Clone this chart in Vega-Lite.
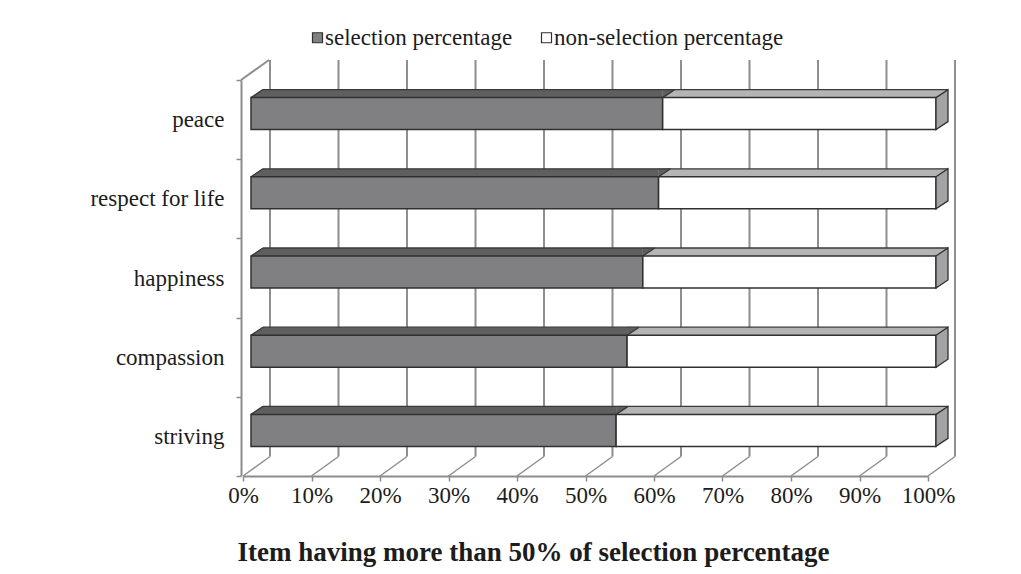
{
  "$schema": "https://vega.github.io/schema/vega-lite/v6.json",
  "width": 685,
  "height": 396,
  "autosize": {"type": "none"},
  "padding": {"left": 243, "top": 80, "right": 93, "bottom": 98},
  "background": "white",
  "datasets": {
    "shares": [
      {"item": "peace", "segment": "selection percentage", "value": 0.601},
      {"item": "peace", "segment": "non-selection percentage", "value": 0.399},
      {"item": "respect for life", "segment": "selection percentage", "value": 0.595},
      {"item": "respect for life", "segment": "non-selection percentage", "value": 0.405},
      {"item": "happiness", "segment": "selection percentage", "value": 0.572},
      {"item": "happiness", "segment": "non-selection percentage", "value": 0.428},
      {"item": "compassion", "segment": "selection percentage", "value": 0.549},
      {"item": "compassion", "segment": "non-selection percentage", "value": 0.451},
      {"item": "striving", "segment": "selection percentage", "value": 0.533},
      {"item": "striving", "segment": "non-selection percentage", "value": 0.467}
    ],
    "ticks": [
      {"t": 0}, {"t": 0.1}, {"t": 0.2}, {"t": 0.3}, {"t": 0.4}, {"t": 0.5},
      {"t": 0.6}, {"t": 0.7}, {"t": 0.8}, {"t": 0.9}, {"t": 1}
    ],
    "corner": [{"edge": "left wall"}]
  },
  "config": {
    "view": {"stroke": null},
    "font": "Liberation Serif",
    "axis": {
      "grid": false,
      "labelFont": "Liberation Serif",
      "labelFontSize": 23,
      "labelColor": "#1c1c1c",
      "labelOverlap": false,
      "labelFlush": false,
      "domainColor": "#8c8c8c",
      "domainWidth": 2,
      "tickColor": "#8c8c8c",
      "tickWidth": 1.5,
      "tickSize": 5,
      "titleFont": "Liberation Serif",
      "titleFontSize": 27,
      "titleFontWeight": "bold",
      "titleColor": "#1c1c1c"
    },
    "legend": {
      "labelFont": "Liberation Serif",
      "labelFontSize": 23,
      "labelColor": "#1c1c1c",
      "labelLimit": 0
    }
  },
  "layer": [
    {
      "description": "back wall: vertical gridlines",
      "data": {"name": "ticks"},
      "mark": {"type": "rule", "color": "#8e8e8e", "strokeWidth": 2, "xOffset": 27, "yOffset": -20, "y2Offset": -19.5},
      "encoding": {
        "x": {
          "field": "t",
          "type": "quantitative",
          "scale": {"domain": [0, 1], "nice": false},
          "title": "Item having more than 50% of selection percentage",
          "axis": {
            "values": [0, 0.1, 0.2, 0.3, 0.4, 0.5, 0.6, 0.7, 0.8, 0.9, 1],
            "format": ".0%",
            "labelPadding": 3,
            "titleX": 290,
            "titleY": 76,
            "titleBaseline": "middle",
            "titleAlign": "center"
          }
        },
        "y": {"value": 0},
        "y2": {"value": "height"}
      }
    },
    {
      "description": "floor: receding lines",
      "data": {"name": "ticks"},
      "mark": {"type": "rule", "color": "#8e8e8e", "strokeWidth": 1.5, "x2Offset": 27, "y2Offset": -19.5},
      "encoding": {
        "x": {"field": "t", "type": "quantitative", "title": "Item having more than 50% of selection percentage"},
        "x2": {"field": "t"},
        "y": {"value": "height"},
        "y2": {"value": "height"}
      }
    },
    {
      "description": "side wall: top edge",
      "data": {"name": "corner"},
      "mark": {"type": "rule", "color": "#8e8e8e", "strokeWidth": 2, "xOffset": -2, "x2Offset": 26, "y2Offset": -20},
      "encoding": {
        "x": {"datum": 0, "type": "quantitative"},
        "x2": {"datum": 0},
        "y": {"value": 0},
        "y2": {"value": 0}
      }
    },
    {
      "data": {"name": "shares"},
      "transform": [
        {
          "stack": "value",
          "groupby": ["item"],
          "sort": [{"field": "segment", "order": "descending"}],
          "as": ["x0", "x1"]
        }
      ],
      "layer": [
        {
          "description": "top faces: middle part",
          "mark": {"type": "bar", "height": 8, "yOffset": -26, "xOffset": 20, "x2Offset": 8, "strokeWidth": 0},
          "encoding": {
            "y": {
              "field": "item",
              "type": "nominal",
              "sort": ["peace", "respect for life", "happiness", "compassion", "striving"],
              "scale": {"paddingInner": 0, "paddingOuter": 0},
              "title": null,
              "axis": {"tickBand": "extent", "offset": 2, "labelPadding": 12}
            },
            "x": {"field": "x0", "type": "quantitative", "title": "Item having more than 50% of selection percentage"},
            "x2": {"field": "x1"},
            "fill": {"condition": {"test": "datum.segment === 'selection percentage'", "value": "#5f5f61"}, "value": "#b4b4b4"}
          }
        },
        {
          "description": "top faces: slanted left ends",
          "mark": {"type": "point", "shape": "M8,-22L20,-22L20,-30Z", "size": 4, "filled": true, "opacity": 1, "strokeWidth": 0.6},
          "encoding": {
            "y": {"field": "item", "type": "nominal", "sort": ["peace", "respect for life", "happiness", "compassion", "striving"], "title": null},
            "x": {"field": "x0", "type": "quantitative", "title": "Item having more than 50% of selection percentage"},
            "fill": {"condition": {"test": "datum.segment === 'selection percentage'", "value": "#5f5f61"}, "value": "#b4b4b4"},
            "stroke": {"condition": {"test": "datum.segment === 'selection percentage'", "value": "#5f5f61"}, "value": "#b4b4b4"}
          }
        },
        {
          "description": "top faces: slanted right ends",
          "mark": {"type": "point", "shape": "M8,-22L20,-30L8,-30Z", "size": 4, "filled": true, "opacity": 1, "strokeWidth": 0.6},
          "encoding": {
            "y": {"field": "item", "type": "nominal", "sort": ["peace", "respect for life", "happiness", "compassion", "striving"], "title": null},
            "x": {"field": "x1", "type": "quantitative", "title": "Item having more than 50% of selection percentage"},
            "fill": {"condition": {"test": "datum.segment === 'selection percentage'", "value": "#5f5f61"}, "value": "#b4b4b4"},
            "stroke": {"condition": {"test": "datum.segment === 'selection percentage'", "value": "#5f5f61"}, "value": "#b4b4b4"}
          }
        },
        {
          "description": "top faces: back edge",
          "mark": {"type": "rule", "color": "#3a3a3a", "strokeWidth": 1.3, "xOffset": 20, "x2Offset": 20, "yOffset": -30},
          "encoding": {
            "y": {"field": "item", "type": "nominal", "sort": ["peace", "respect for life", "happiness", "compassion", "striving"], "title": null},
            "x": {"field": "x0", "type": "quantitative", "title": "Item having more than 50% of selection percentage"},
            "x2": {"field": "x1"}
          }
        },
        {
          "description": "top faces: slanted edges",
          "mark": {"type": "point", "shape": "M8,-22L20,-30", "size": 4, "filled": false, "opacity": 1, "stroke": "#3a3a3a", "strokeWidth": 1.3},
          "encoding": {
            "y": {"field": "item", "type": "nominal", "sort": ["peace", "respect for life", "happiness", "compassion", "striving"], "title": null},
            "x": {"field": "x0", "type": "quantitative", "title": "Item having more than 50% of selection percentage"}
          }
        },
        {
          "description": "front faces",
          "mark": {"type": "bar", "height": 32, "yOffset": -6, "xOffset": 8, "x2Offset": 8, "stroke": "#303030", "strokeWidth": 1.5},
          "encoding": {
            "y": {"field": "item", "type": "nominal", "sort": ["peace", "respect for life", "happiness", "compassion", "striving"], "title": null},
            "x": {"field": "x0", "type": "quantitative", "title": "Item having more than 50% of selection percentage"},
            "x2": {"field": "x1"},
            "fill": {
              "field": "segment",
              "type": "nominal",
              "scale": {"domain": ["selection percentage", "non-selection percentage"], "range": ["#808082", "#ffffff"]},
              "legend": {
                "title": null,
                "orient": "none",
                "direction": "horizontal",
                "legendX": 63,
                "legendY": -54,
                "symbolType": "square",
                "symbolSize": 100,
                "symbolStrokeColor": "#303030",
                "symbolStrokeWidth": 1.2,
                "labelOffset": -4,
                "columnPadding": 22
              }
            }
          }
        },
        {
          "description": "end faces",
          "transform": [{"filter": "datum.segment === 'non-selection percentage'"}],
          "mark": {"type": "point", "shape": "M8,-22L20,-30L20,2L8,10Z", "size": 4, "filled": true, "opacity": 1, "fill": "#a3a3a5", "stroke": "#303030", "strokeWidth": 1.3},
          "encoding": {
            "y": {"field": "item", "type": "nominal", "sort": ["peace", "respect for life", "happiness", "compassion", "striving"], "title": null},
            "x": {"field": "x1", "type": "quantitative", "title": "Item having more than 50% of selection percentage"}
          }
        }
      ]
    }
  ]
}
